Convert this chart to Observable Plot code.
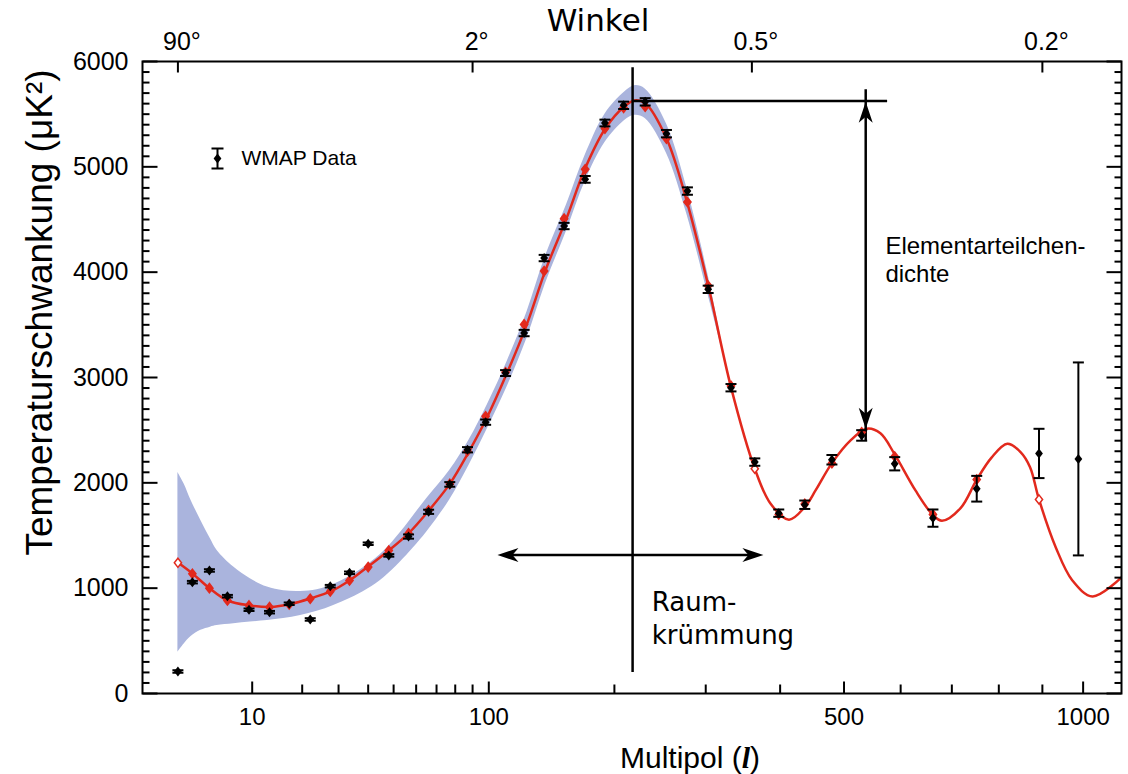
<!DOCTYPE html>
<html>
<head>
<meta charset="utf-8">
<script src="https://cdn.jsdelivr.net/npm/d3@7"></script>
<script src="https://cdn.jsdelivr.net/npm/@observablehq/plot@0.6"></script>
<style>
  body { margin: 0; background: #fff; }
  svg { display: block; }
</style>
</head>
<body>
<div id="chart"></div>
<script>
// ---- WMAP data points (multipole l, value µK², error) ----
const wmapL   = [2, 3, 4.5, 6.5, 9.5, 13, 17, 22, 27.5, 33.5, 40, 48, 56.5, 66, 77, 87, 98, 111, 124, 139, 155, 173, 191, 209, 231, 254, 278, 303, 332, 364, 398, 437, 480, 530, 589, 662, 752, 892, 988];
const wmapV   = [209, 1057, 1168, 924, 795, 772, 852, 703, 1019, 1146, 1422, 1311, 1490, 1725, 1985, 2314, 2576, 3042, 3422, 4134, 4438, 4881, 5416, 5584, 5617, 5315, 4770, 3837, 2903, 2197, 1712, 1792, 2219, 2450, 2181, 1665, 1944, 2279, 2227];
const wmapErr = [12, 12, 12, 12, 12, 12, 12, 12, 12, 12, 12, 12, 20, 20, 22, 25, 25, 28, 30, 30, 30, 32, 32, 35, 35, 35, 35, 35, 35, 35, 35, 40, 45, 50, 63, 82, 122, 234, 916];

// ---- binned model values (red diamonds) ----
const modelL = [2, 3, 4.5, 6.5, 9.5, 13, 17, 22, 27.5, 33.5, 40, 48, 56.5, 66, 77, 87, 98, 111, 124, 139, 155, 173, 191, 209, 231, 254, 278, 303, 332, 364, 398, 437, 480, 530, 589, 662, 752, 892];
const modelV = [1241, 1137, 1000, 883, 836, 820, 845, 899, 969, 1073, 1200, 1358, 1520, 1740, 1990, 2300, 2631, 3050, 3504, 4010, 4508, 4976, 5363, 5560, 5570, 5268, 4666, 3870, 2920, 2134, 1700, 1800, 2187, 2480, 2250, 1700, 2032, 1842];
const modelOpen = [2, 364, 892];

// ---- model curve (red line) ----
const curveL = [2, 3, 4.5, 6.5, 9.7, 13.2, 17.3, 22, 27.6, 33.5, 40, 48, 56.5, 66, 77, 87.6, 99, 111.6, 125.7, 140, 157, 173, 191.5, 210, 220, 231, 254, 277, 303, 332, 364, 386, 413, 437, 454, 480, 511, 539, 563, 589, 628, 661, 680, 718, 752, 784, 819, 849, 871, 892, 932, 973, 1024, 1100];
const curveV = [1244, 1140, 1000, 883, 836, 822, 850, 902, 969, 1073, 1206, 1358, 1520, 1735, 1990, 2290, 2625, 3030, 3495, 4017, 4511, 4986, 5366, 5575, 5630, 5603, 5271, 4682, 3875, 2909, 2134, 1804, 1650, 1770, 1930, 2187, 2403, 2514, 2470, 2270, 1928, 1700, 1640, 1760, 2030, 2240, 2371, 2292, 2149, 1842, 1389, 1073, 921, 1102];

// ---- cosmic variance band ----
const bandL  = [2, 2.4, 2.9, 3.7, 4.6, 5.3, 7.3, 9.7, 12.6, 15.8, 19.6, 23.8, 28.5, 33.8, 39.7, 46, 53, 65, 77, 88, 99, 112, 126, 140, 157, 173, 191, 210, 220, 231, 254, 277, 303, 320];
const bandLo = [392, 470, 540, 600, 630, 645, 662, 678, 693, 712, 741, 780, 836, 905, 990, 1100, 1250, 1530, 1840, 2170, 2510, 2910, 3370, 3890, 4390, 4860, 5230, 5440, 5490, 5460, 5130, 4560, 3780, 3280];
const bandHi = [2099, 1990, 1833, 1643, 1470, 1358, 1200, 1089, 1010, 975, 968, 985, 1035, 1115, 1220, 1350, 1530, 1850, 2120, 2410, 2740, 3150, 3620, 4150, 4640, 5110, 5500, 5710, 5770, 5740, 5410, 4810, 3970, 3340];

// ---- axes ----
const xMajorTicks = [10, 100, 500, 1000];
const xTickLabels = ["10", "100", "500", "1000"];
const xMinorTicks = [20, 30, 40, 50, 60, 70, 80, 90, 200, 300, 400, 600, 700, 800, 900];
const topTicks = [2, 90, 360, 900];
const topTickLabels = ["90°", "2°", "0.5°", "0.2°"];
const yMajorTicks = [0, 1000, 2000, 3000, 4000, 5000, 6000];
const yMinorTicks = d3.range(0, 6001, 100).filter(v => v % 1000 !== 0);

// ---- annotations ----
const peakLine = [{l: 218, v1: 200, v2: 5940}];
const peakLevel = [{v: 5625, l1: 218, l2: 576}];
const densityArrow = [{l: 537, v1: 2514, v2: 5617}];
const curvatureArrow = [{v: 1315, l1: 105.6, l2: 376}];
const curvatureText = [{l: 238, v: 726, text: "Raum-\nkrümmung"}];
const densityText = [{l: 572, v: 4122, text: "Elementarteilchen-\ndichte"}];

// ---- tables ----
const wmap = wmapL.map((l, i) => ({l, v: wmapV[i], e: wmapErr[i]}));
const model = modelL.map((l, i) => ({l, v: modelV[i], open: modelOpen.includes(l)}));
const curve = curveL.map((l, i) => ({l, v: curveV[i]}));
const band = bandL.map((l, i) => ({l, lo: bandLo[i], hi: bandHi[i]}));

// ---- custom symbols ----
const seg = (x1, y1, x2, y2) => ({draw(c) { c.moveTo(x1, y1); c.lineTo(x2, y2); }});
const diamond = (w, h) => ({draw(c) { c.moveTo(0, -h); c.lineTo(w, 0); c.lineTo(0, h); c.lineTo(-w, 0); c.closePath(); }});
const headUp = {draw(c) { c.moveTo(0, 0); c.lineTo(7, 21); c.lineTo(0, 15); c.lineTo(-7, 21); c.closePath(); }};
const headDown = {draw(c) { c.moveTo(0, 0); c.lineTo(7, -21); c.lineTo(0, -15); c.lineTo(-7, -21); c.closePath(); }};
const headLeft = {draw(c) { c.moveTo(0, 0); c.lineTo(21, 7); c.lineTo(15, 0); c.lineTo(21, -7); c.closePath(); }};
const headRight = {draw(c) { c.moveTo(0, 0); c.lineTo(-21, 7); c.lineTo(-15, 0); c.lineTo(-21, -7); c.closePath(); }};
const capSym = seg(-5.5, 0, 5.5, 0);
const legendBar = {draw(c) { c.moveTo(0, -10); c.lineTo(0, 10); c.moveTo(-6, -10); c.lineTo(6, -10); c.moveTo(-6, 10); c.lineTo(6, 10); }};

const RED = "#e2291d";
const tickStyle = {fill: "none", stroke: "black", strokeWidth: 2};

const plot = Plot.plot({
  width: 1128,
  height: 774,
  marginLeft: 142,
  marginRight: 7,
  marginTop: 61,
  marginBottom: 81,
  x: {type: "pow", exponent: 0.4, domain: [0.489, 1100], axis: null},
  y: {domain: [0, 6000], axis: null},
  style: {fontFamily: "'Liberation Sans', Arial, sans-serif", background: "white", overflow: "visible", color: "black"},
  marks: [
    // band and model curve
    Plot.areaY(band, {x: "l", y1: "lo", y2: "hi", fill: "#aab4dd", curve: "catmull-rom"}),
    Plot.line(curve, {x: "l", y: "v", stroke: RED, strokeWidth: 2.5, curve: "catmull-rom", clip: true}),

    // annotation lines and arrows
    Plot.ruleX(peakLine, {x: "l", y1: "v1", y2: "v2", stroke: "black", strokeWidth: 2.5}),
    Plot.ruleY(peakLevel, {y: "v", x1: "l1", x2: "l2", stroke: "black", strokeWidth: 2.5}),
    Plot.ruleX(densityArrow, {x: "l", y1: "v1", y2: "v2", stroke: "black", strokeWidth: 2.5, insetTop: 12, insetBottom: 12}),
    Plot.dot(densityArrow, {x: "l", y: "v2", symbol: headUp, fill: "black", stroke: "none"}),
    Plot.dot(densityArrow, {x: "l", y: "v1", symbol: headDown, fill: "black", stroke: "none"}),
    Plot.ruleY(curvatureArrow, {y: "v", x1: "l1", x2: "l2", stroke: "black", strokeWidth: 2.5, insetLeft: 12, insetRight: 12}),
    Plot.dot(curvatureArrow, {x: "l1", y: "v", symbol: headLeft, fill: "black", stroke: "none"}),
    Plot.dot(curvatureArrow, {x: "l2", y: "v", symbol: headRight, fill: "black", stroke: "none"}),

    // model bins (red diamonds)
    Plot.dot(model, {x: "l", y: "v", symbol: diamond(3.6, 4.6), fill: d => d.open ? "white" : RED, stroke: RED, strokeWidth: 1.5}),

    // WMAP data with error bars
    Plot.ruleX(wmap, {x: "l", y1: d => d.v - d.e, y2: d => d.v + d.e, stroke: "black", strokeWidth: 2}),
    Plot.dot(wmap, {x: "l", y: d => d.v - d.e, symbol: capSym, ...tickStyle}),
    Plot.dot(wmap, {x: "l", y: d => d.v + d.e, symbol: capSym, ...tickStyle}),
    Plot.dot(wmap, {x: "l", y: "v", symbol: diamond(3.9, 5), fill: "black", stroke: "none"}),

    // legend
    Plot.dot([0], {frameAnchor: "top-left", dx: 75, dy: 97, symbol: legendBar, ...tickStyle}),
    Plot.dot([0], {frameAnchor: "top-left", dx: 75, dy: 97, symbol: diamond(3.9, 5), fill: "black", stroke: "none"}),
    Plot.text(["WMAP Data"], {frameAnchor: "top-left", dx: 99, dy: 97, textAnchor: "start", lineAnchor: "middle", fontSize: 21}),

    // annotation texts
    Plot.text(curvatureText, {x: "l", y: "v", text: "text", textAnchor: "start", lineAnchor: "middle", fontSize: 26, lineHeight: 1.27, fontFamily: "'DejaVu Sans', sans-serif"}),
    Plot.text(densityText, {x: "l", y: "v", text: "text", textAnchor: "start", lineAnchor: "middle", fontSize: 24, lineHeight: 1.17}),

    // frame
    Plot.frame({stroke: "black", strokeWidth: 2}),

    // bottom axis ticks & labels
    Plot.dot(xMajorTicks, {x: d => d, frameAnchor: "bottom", symbol: seg(0, 0, 0, -12), ...tickStyle}),
    Plot.dot(xMinorTicks, {x: d => d, frameAnchor: "bottom", symbol: seg(0, 0, 0, -9), ...tickStyle}),
    Plot.text(xMajorTicks, {x: d => d, text: (d, i) => xTickLabels[i], frameAnchor: "bottom", dy: 24, textAnchor: "middle", lineAnchor: "middle", fontSize: 24}),

    // top axis ticks & labels
    Plot.dot(topTicks, {x: d => d, frameAnchor: "top", symbol: seg(0, 0, 0, 11), ...tickStyle}),
    Plot.text(topTicks, {x: d => d, text: (d, i) => topTickLabels[i], frameAnchor: "top", dy: -20, dx: 4, textAnchor: "middle", lineAnchor: "middle", fontSize: 25}),

    // left axis ticks & labels
    Plot.dot(yMajorTicks, {y: d => d, frameAnchor: "left", symbol: seg(0, 0, 15, 0), ...tickStyle}),
    Plot.dot(yMinorTicks, {y: d => d, frameAnchor: "left", symbol: seg(0, 0, 7, 0), ...tickStyle}),
    Plot.text(yMajorTicks, {y: d => d, text: d => String(d), frameAnchor: "left", dx: -14, textAnchor: "end", lineAnchor: "middle", fontSize: 25}),

    // right axis ticks
    Plot.dot(yMajorTicks, {y: d => d, frameAnchor: "right", symbol: seg(0, 0, -15, 0), ...tickStyle}),
    Plot.dot(yMinorTicks, {y: d => d, frameAnchor: "right", symbol: seg(0, 0, -7, 0), ...tickStyle}),

    // axis titles
    Plot.text(["Temperaturschwankung (μK²)"], {frameAnchor: "left", dx: -102, dy: -65, rotate: -90, textAnchor: "middle", lineAnchor: "middle", fontSize: 37}),
    Plot.text(["Winkel"], {frameAnchor: "top", dx: -34, dy: -40, textAnchor: "middle", lineAnchor: "middle", fontSize: 31, fontFamily: "'DejaVu Sans', sans-serif"})
  ]
});

// bottom axis title with mixed styles
const svg = d3.select(plot);
const t = svg.append("text")
  .attr("x", 690).attr("y", 768)
  .attr("text-anchor", "middle")
  .attr("font-size", 30)
  .attr("font-family", "'Liberation Sans', Arial, sans-serif")
  .attr("fill", "black");
t.append("tspan").text("Multipol (");
t.append("tspan").attr("font-family", "'Liberation Serif', serif").attr("font-style", "italic").attr("font-weight", "bold").text("l");
t.append("tspan").text(")");

document.getElementById("chart").appendChild(plot);
</script>
</body>
</html>
